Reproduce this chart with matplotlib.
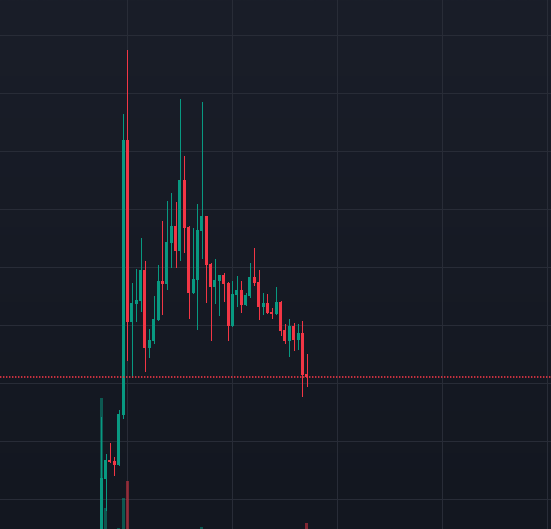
import numpy as np
import matplotlib
matplotlib.use("Agg")
import matplotlib.pyplot as plt
from matplotlib.colors import LinearSegmentedColormap

# -------------------- Data --------------------
opens = [0.55, 2.69, 3.34, 3.31, 3.17, 4.90, 14.38, 8.10, 8.72, 8.83,
         9.90, 7.21, 7.45, 8.17, 9.52, 9.41, 10.83, 11.41, 10.55, 13.00,
         11.38, 9.10, 9.55, 11.24, 11.76, 10.10, 9.31, 9.52, 9.72, 9.45,
         7.97, 9.03, 9.21, 8.69, 9.00, 9.66, 9.48, 8.62, 8.76, 8.45,
         8.38, 8.79, 7.83, 7.45, 7.97, 7.48, 7.72, 6.31]
highs = [4.83, 3.55, 3.93, 3.45, 5.07, 15.28, 17.48, 9.45, 9.93, 11.00,
         10.21, 7.86, 9.00, 10.07, 11.59, 12.28, 12.55, 12.24, 15.79, 13.83,
         11.41, 11.34, 12.17, 15.69, 11.76, 10.14, 10.28, 9.72, 9.79, 9.48,
         9.52, 9.69, 9.52, 9.10, 10.14, 10.66, 9.90, 9.10, 9.07, 8.59,
         9.31, 8.83, 8.03, 8.21, 8.07, 8.03, 8.14, 7.00]
lows = [0.50, 1.62, 3.27, 2.83, 3.17, 4.79, 6.79, 6.21, 8.14, 8.48,
        6.41, 6.90, 7.38, 8.17, 8.38, 9.24, 10.00, 10.00, 10.24, 10.52,
        8.24, 9.10, 7.86, 10.31, 8.79, 7.48, 8.76, 8.34, 8.83, 7.48,
        7.97, 8.66, 8.45, 8.69, 8.97, 9.38, 8.21, 8.38, 8.41, 8.24,
        8.38, 7.66, 7.38, 6.93, 7.14, 7.17, 5.55, 5.90]
closes = [2.72, 3.34, 3.27, 3.17, 4.93, 14.38, 8.10, 8.76, 8.86, 9.90,
          7.21, 7.48, 8.21, 9.52, 9.41, 10.86, 11.41, 10.55, 13.00, 11.34,
          9.10, 9.59, 11.28, 11.76, 10.07, 9.31, 9.55, 9.72, 9.41, 7.97,
          9.07, 9.21, 8.69, 9.03, 9.66, 9.45, 8.62, 8.76, 8.41, 8.38,
          8.79, 7.79, 7.45, 7.97, 7.48, 7.72, 6.28, 6.21]
volumes = [131, 21, 0.3, 0.3, 1, 31, 48, 0.3, 0.3, 0.3,
           0.3, 0.3, 0.3, 0.3, 0.3, 0.3, 0.3, 0.3, 0.3, 0.3,
           0.3, 0.3, 0.3, 2, 0.3, 0.3, 0.3, 0.3, 0.3, 0.3,
           0.3, 0.3, 0.3, 0.3, 0.3, 0.3, 0.3, 0.3, 0.3, 0.3,
           0.3, 0.3, 0.3, 0.3, 0.3, 0.3, 0.3, 6]
last_price = 6.224
price_grid = [2, 4, 6, 8, 10, 12, 14, 16, 18]
time_grid = [6, 30, 54, 78, 102]

# -------------------- Styling --------------------
up_col = '#089981'
down_col = '#f23645'
grid_col = '#282c37'
xlim = (-23.14, 102.83)
ylim = (0.966, 19.207)
px = 72 / 100  # one pixel in points
plt.rcParams['lines.scale_dashes'] = False

idx = np.arange(len(opens))
o = np.array(opens); h = np.array(highs); l = np.array(lows); c = np.array(closes)
up = c >= o
colors = np.where(up, up_col, down_col)

fig = plt.figure(figsize=(5.51, 5.29), dpi=100)

# background gradient + grid
ax_bg = fig.add_axes([0, 0, 1, 1])
cmap = LinearSegmentedColormap.from_list('bg', ['#131720', '#1a1e29'])
grad = np.linspace(0, 1, 256).reshape(-1, 1)
ax_bg.imshow(grad, cmap=cmap, aspect='auto', origin='lower',
             extent=(xlim[0], xlim[1], ylim[0], ylim[1]))
for g in price_grid:
    ax_bg.axhline(g, color=grid_col, lw=px)
for g in time_grid:
    ax_bg.axvline(g, color=grid_col, lw=px)
ax_bg.set_xlim(xlim)
ax_bg.set_ylim(ylim)
ax_bg.axis('off')

# volume overlay
ax_vol = fig.add_axes([0, 0, 1, 1])
ax_vol.patch.set_alpha(0)
ax_vol.bar(idx, volumes, width=0.69, color=colors, alpha=0.5, linewidth=0,
           antialiased=False)
ax_vol.set_xlim(xlim)
ax_vol.set_ylim(0, max(volumes) * 529 / 131)
ax_vol.axis('off')

# candles
ax = fig.add_axes([0, 0, 1, 1])
ax.patch.set_alpha(0)
ax.vlines(idx, l, h, colors=colors, lw=px, antialiased=False)
body = np.maximum(np.abs(c - o), 0.035)
ax.bar(idx, body, bottom=np.minimum(o, c), width=0.69, color=colors,
       linewidth=0, antialiased=False)

# last price line
ax.axhline(last_price, color=down_col, lw=1.6 * px,
           linestyle=(0, (1.4 * px, 1.6 * px)))

ax.set_xlim(xlim)
ax.set_ylim(ylim)
ax.axis('off')

fig.savefig('out.png', dpi=100)
